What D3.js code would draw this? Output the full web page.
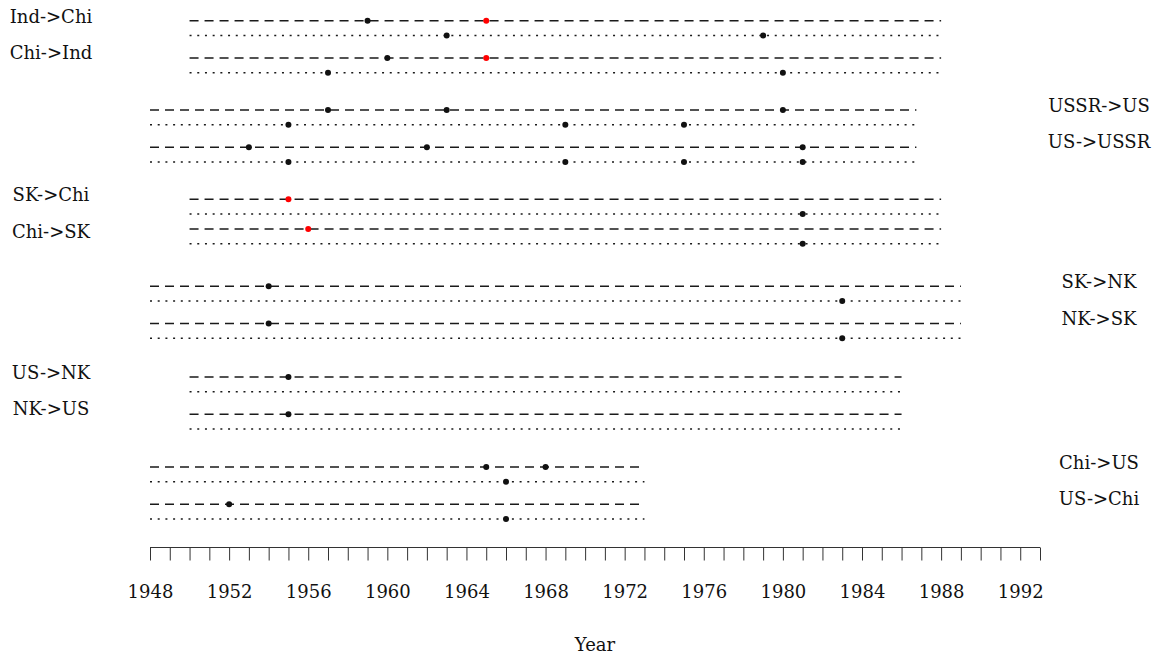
<!DOCTYPE html>
<html>
<head>
<meta charset="utf-8">
<script src="https://cdn.jsdelivr.net/npm/d3@7"></script>
<style>
  html, body { margin: 0; padding: 0; background: #fff; }
  svg text { font-family: "DejaVu Serif", "Liberation Serif", serif; font-size: 18px; fill: #111; }
</style>
</head>
<body>
<svg id="chart" width="1163" height="658"></svg>
<script>
// ---- data ----
const pairLabels = [
  ["Ind->Chi", "Chi->Ind"],
  ["USSR->US", "US->USSR"],
  ["SK->Chi", "Chi->SK"],
  ["SK->NK", "NK->SK"],
  ["US->NK", "NK->US"],
  ["Chi->US", "US->Chi"]
];
const labelSide = ["left", "right", "left", "right", "left", "right"];
const groupBase = [0, 6, 12, 17.85, 23.95, 30];
const groupRowOffsets = [
  [0, 1, 2.5, 3.5],
  [0, 1, 2.5, 3.5],
  [0, 1, 2, 3],
  [0, 1, 2.5, 3.5],
  [0, 1, 2.5, 3.5],
  [0, 1, 2.5, 3.5]
];
const labelOffsets = [-0.3, 2.15];
const groupStart = [1950, 1948, 1950, 1948, 1950, 1948];
const groupEnd = [1988, 1986.75, 1988, 1989, 1986, 1973];
const rowLineType = ["dashed", "dotted", "dashed", "dotted"];
// black event years per row
const rowEvents = [
  [[1959], [1963, 1979], [1960], [1957, 1980]],
  [[1957, 1963, 1980], [1955, 1969, 1975], [1953, 1962, 1981], [1955, 1969, 1975, 1981]],
  [[], [1981], [], [1981]],
  [[1954], [1983], [1954], [1983]],
  [[1955], [], [1955], []],
  [[1965, 1968], [1966], [1952], [1966]]
];
// red (highlighted) event years per row
const rowHighlights = [
  [[1965], [], [1965], []],
  [[], [], [], []],
  [[1955], [], [1956], []],
  [[], [], [], []],
  [[], [], [], []],
  [[], [], [], []]
];
const tickYears = d3.range(1948, 1994, 1);
const tickLabels = d3.range(1948, 1993, 4);
const xTitle = "Year";

// ---- scales ----
const svg = d3.select("#chart");
const x = d3.scaleLinear().domain([1948, 1993]).range([150, 1040]);
const y = d3.scaleLinear().domain([0, 33.5]).range([20.7, 519]);

const dashStyle = { dashed: "9,6", dotted: "2,5.7" };

// ---- rows ----
pairLabels.forEach((labels, g) => {
  const grp = svg.append("g");
  groupRowOffsets[g].forEach((off, r) => {
    const yy = y(groupBase[g] + off);
    grp.append("line")
      .attr("x1", x(groupStart[g])).attr("x2", x(groupEnd[g]))
      .attr("y1", yy).attr("y2", yy)
      .attr("stroke", "#1a1a1a")
      .attr("stroke-width", 1.5)
      .attr("stroke-dasharray", dashStyle[rowLineType[r]]);
    grp.selectAll(null).data(rowEvents[g][r]).enter().append("circle")
      .attr("cx", d => x(d)).attr("cy", yy).attr("r", 3)
      .attr("fill", "#111");
    grp.selectAll(null).data(rowHighlights[g][r]).enter().append("circle")
      .attr("cx", d => x(d)).attr("cy", yy).attr("r", 3)
      .attr("fill", "#ff0000");
  });
  labels.forEach((lab, i) => {
    grp.append("text")
      .attr("x", labelSide[g] === "left" ? 51 : 1099)
      .attr("y", y(groupBase[g] + labelOffsets[i]))
      .attr("text-anchor", "middle")
      .attr("dominant-baseline", "central")
      .text(lab);
  });
});

// ---- axis ----
const axisY = 547.5;
const axis = d3.axisBottom(x)
  .tickValues(tickYears)
  .tickSize(13)
  .tickFormat(d => tickLabels.includes(d) ? String(d) : "");
const ax = svg.append("g").attr("transform", `translate(0,${axisY})`).call(axis);
ax.select(".domain").attr("stroke", "#333").attr("d", `M${x(1948)},0H${x(1993)}`);
ax.selectAll(".tick line").attr("stroke", "#333");
ax.selectAll(".tick text")
  .attr("y", 44)
  .attr("dy", "0")
  .attr("dominant-baseline", "central")
  .style("font-family", '"DejaVu Serif", serif')
  .style("font-size", "18px")
  .attr("fill", "#111");

svg.append("text")
  .attr("x", (x(1948) + x(1993)) / 2)
  .attr("y", 644)
  .attr("text-anchor", "middle")
  .attr("dominant-baseline", "central")
  .text(xTitle);
</script>
</body>
</html>
